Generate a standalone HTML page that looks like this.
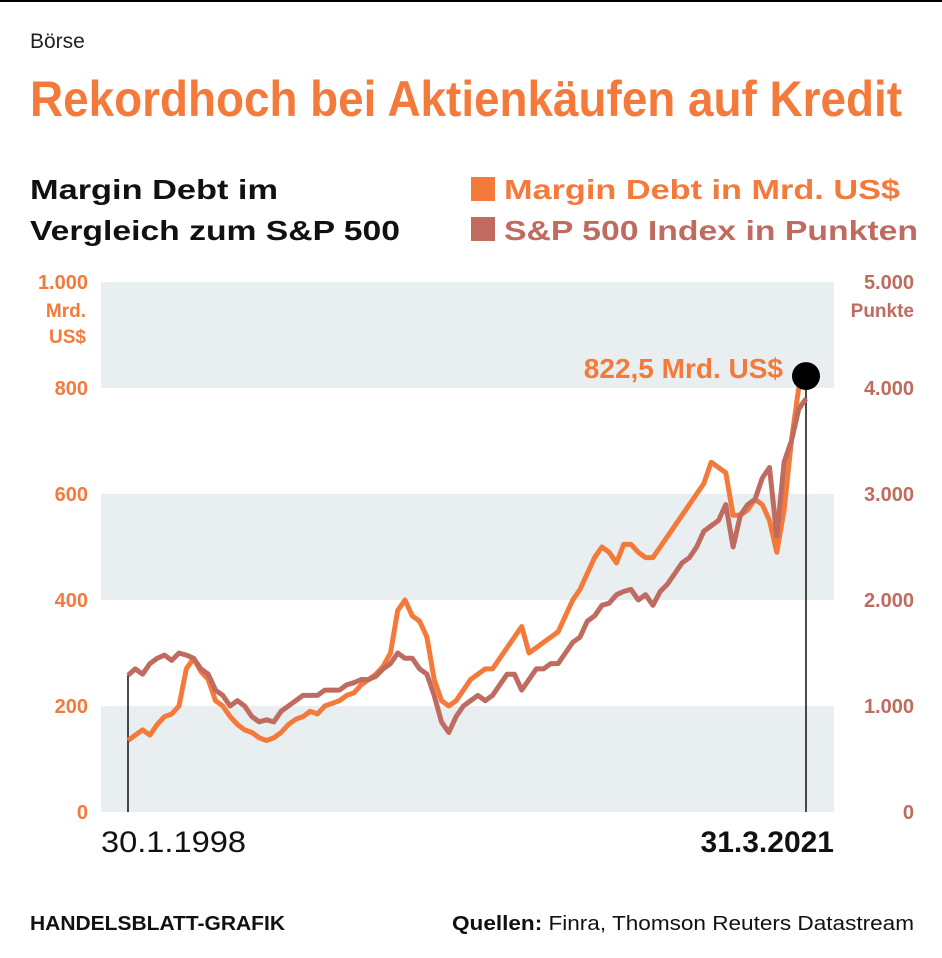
<!DOCTYPE html>
<html><head><meta charset="utf-8"><style>
html,body{margin:0;padding:0;background:#fff;}
svg{display:block;font-family:"Liberation Sans",sans-serif;}
</style></head><body>
<svg id="c" width="942" height="958" viewBox="0 0 942 958" xmlns="http://www.w3.org/2000/svg">
<line x1="0" y1="1" x2="942" y2="1" stroke="#000" stroke-width="2"/>
<text x="30" y="48" font-size="21" fill="#222">Börse</text>
<text x="30" y="116" font-size="50" font-weight="bold" fill="#f47a3c" textLength="872" lengthAdjust="spacingAndGlyphs">Rekordhoch bei Aktienkäufen auf Kredit</text>
<text x="30" y="199" font-size="28" font-weight="bold" fill="#111" textLength="248" lengthAdjust="spacingAndGlyphs">Margin Debt im</text>
<text x="30" y="240" font-size="28" font-weight="bold" fill="#111" textLength="370" lengthAdjust="spacingAndGlyphs">Vergleich zum S&amp;P 500</text>
<g>
<rect x="471" y="177" width="24" height="24" fill="#f47a3c"/>
<text x="504" y="199" font-size="28" font-weight="bold" fill="#f47a3c" textLength="396" lengthAdjust="spacingAndGlyphs">Margin Debt in Mrd. US$</text></g>
<g>
<rect x="471" y="217" width="24" height="24" fill="#c06b5f"/>
<text x="504" y="240" font-size="28" font-weight="bold" fill="#c06b5f" textLength="414" lengthAdjust="spacingAndGlyphs">S&amp;P 500 Index in Punkten</text></g>
<g id="bands"></g>
<g id="axes"></g>
<g id="lines"></g>
<text x="30" y="930" font-size="20" font-weight="bold" fill="#111" textLength="255" lengthAdjust="spacingAndGlyphs">HANDELSBLATT-GRAFIK</text>
<text x="914" y="930" font-size="20" fill="#111" text-anchor="end" textLength="462" lengthAdjust="spacingAndGlyphs"><tspan font-weight="bold">Quellen:</tspan> Finra, Thomson Reuters Datastream</text>
</svg>
<script>
const startYear = 1998.08;
const margin = [135,145,155,145,165,180,185,200,270,290,265,250,210,200,180,165,155,150,140,135,140,150,165,175,180,190,185,200,205,210,220,225,240,250,260,275,300,380,400,370,360,330,250,210,200,210,230,250,260,270,270,290,310,330,350,300,310,320,330,340,370,400,420,450,480,500,490,470,505,505,490,480,480,500,520,540,560,580,600,620,660,650,640,560,560,570,590,580,550,490,570,700,800,822.5];
const sp500 = [1290,1350,1300,1400,1450,1480,1430,1500,1480,1450,1350,1300,1150,1100,1000,1050,1000,900,850,870,850,950,1000,1050,1100,1100,1100,1150,1150,1150,1200,1220,1250,1250,1280,1350,1400,1500,1450,1450,1350,1300,1100,850,750,900,1000,1050,1100,1050,1100,1200,1300,1300,1150,1250,1350,1350,1400,1400,1500,1600,1650,1800,1850,1950,1970,2050,2080,2100,2000,2050,1950,2080,2150,2250,2350,2400,2500,2650,2700,2750,2900,2500,2800,2900,2950,3150,3250,2600,3300,3500,3800,3900];
const leftTicks = [0,200,400,600,800,1000];
const leftLabels = ["0","200","400","600","800","1.000"];
const rightTicks = [0,1000,2000,3000,4000,5000];
const rightLabels = ["0","1.000","2.000","3.000","4.000","5.000"];
const NS="http://www.w3.org/2000/svg";
const X0=101,X1=834,Y0=812,Y1=282;
const yL=v=>Y0-(v/1000)*(Y0-Y1);
const yR=v=>Y0-(v/5000)*(Y0-Y1);
const xT=i=>128+(i/(margin.length-1))*(806-128);
function mk(tag,attrs,parent){const e=document.createElementNS(NS,tag);for(const k in attrs)e.setAttribute(k,attrs[k]);parent.appendChild(e);return e;}
const bands=document.getElementById('bands'),axes=document.getElementById('axes'),lines=document.getElementById('lines');
for(let i=0;i<leftTicks.length-1;i+=2){
 const r=mk('rect',{x:X0,y:yL(leftTicks[i+1]),width:X1-X0,height:yL(leftTicks[i])-yL(leftTicks[i+1]),fill:'#e9eef0'},bands);
 
 
}
leftTicks.forEach((v,i)=>{
 const t=mk('text',{x:88,y:yL(v)+7,'font-size':20,'font-weight':'bold',fill:'#f47a3c','text-anchor':'end'},axes);
 t.textContent=leftLabels[i];
 
 
});
rightTicks.forEach((v,i)=>{
 const t=mk('text',{x:914,y:yR(v)+7,'font-size':20,'font-weight':'bold',fill:'#c06b5f','text-anchor':'end'},axes);
 t.textContent=rightLabels[i];
 
 
});
[["Mrd.",317],["US$",343]].forEach(([s,y])=>{const t=mk('text',{x:86,y:y,'font-size':19,'font-weight':'bold',fill:'#f47a3c','text-anchor':'end'},axes);t.textContent=s;
 
 });
const pu=mk('text',{x:914,y:317,'font-size':19,'font-weight':'bold',fill:'#c06b5f','text-anchor':'end'},axes);pu.textContent="Punkte";


const d1=mk('text',{x:101,y:852,'font-size':30,fill:'#111',textLength:145,lengthAdjust:'spacingAndGlyphs'},axes);d1.textContent="30.1.1998";


const d2=mk('text',{x:834,y:852,'font-size':30,'font-weight':'bold',fill:'#111','text-anchor':'end'},axes);d2.textContent="31.3.2021";


const last=margin.length-1;
const v1=mk('line',{x1:xT(0),y1:yR(sp500[0]),x2:xT(0),y2:Y0,stroke:'#111','stroke-width':1.5},lines);


const v2=mk('line',{x1:xT(last),y1:yL(margin[last]),x2:xT(last),y2:Y0,stroke:'#111','stroke-width':1.5},lines);


function path(arr,f,col,name){
 const d=arr.map((v,i)=>(i?'L':'M')+xT(i).toFixed(1)+','+f(v).toFixed(1)).join('');
 const p=mk('path',{d:d,fill:'none',stroke:col,'stroke-width':5,'stroke-linejoin':'round'},lines);
 
 
}
path(margin,yL,'#f47a3c','margin-debt-line');
path(sp500,yR,'#c06b5f','sp500-line');
const dot=mk('circle',{cx:xT(last),cy:yL(margin[last]),r:14,fill:'#000'},lines);


const lab=mk('text',{x:783,y:yL(margin[last])+2,'font-size':28,'font-weight':'bold',fill:'#f47a3c','text-anchor':'end'},lines);
lab.textContent=String(margin[last]).replace('.',',')+" Mrd. US$";


</script>
</body></html>
